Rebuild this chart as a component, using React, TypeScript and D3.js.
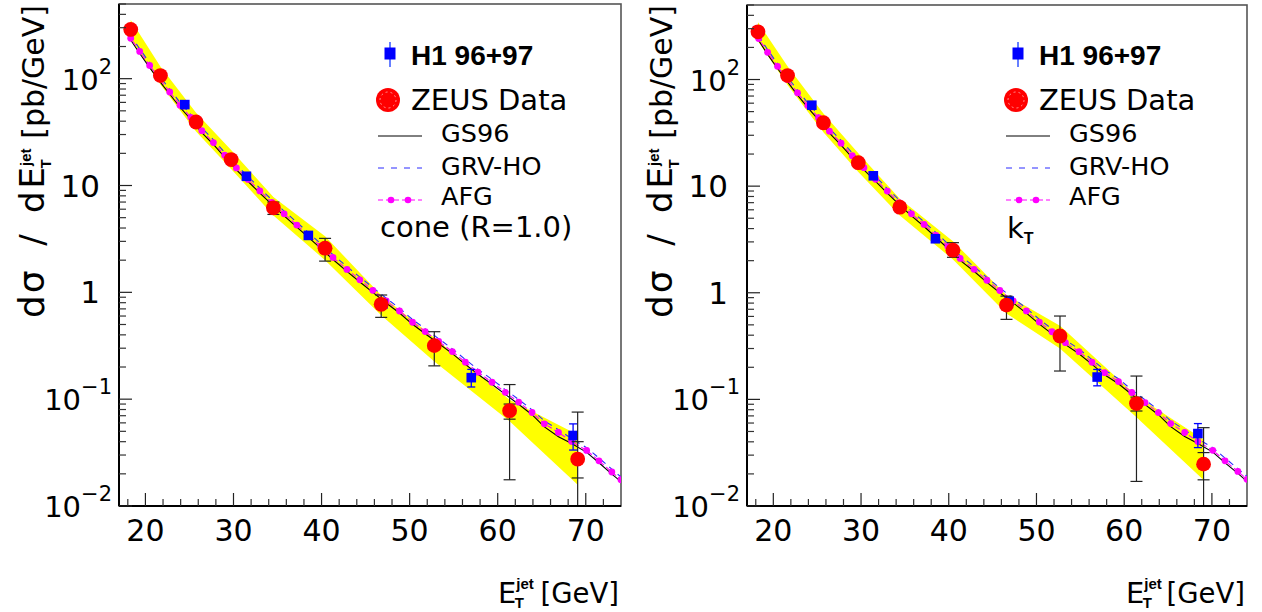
import React from 'react';
import * as d3 from 'd3';

// ---------- data ----------
const xTheory = [17.7, 18.33, 19.35, 20.48, 21.6, 22.76, 23.93, 25.15, 26.4, 27.72, 29.0, 30.33, 31.66, 32.99, 34.35, 35.75, 37.19, 38.55, 39.9, 41.3, 42.88, 44.35, 45.82, 47.34, 48.85, 50.33, 51.77, 53.3, 54.85, 56.33, 57.76, 59.35, 60.86, 62.38, 63.9, 65.3, 66.9, 68.4, 70.1, 71.5, 72.96, 74.0];

const afgCone = [300, 239, 180, 133, 100, 75, 56.3, 43.5, 32.6, 25.2, 19.2, 14.6, 11.4, 8.9, 6.94, 5.43, 4.26, 3.39, 2.70, 2.12, 1.64, 1.31, 1.045, 0.83, 0.669, 0.525, 0.429, 0.347, 0.279, 0.222, 0.179, 0.144, 0.116, 0.0937, 0.075, 0.0588, 0.0488, 0.0402, 0.0331, 0.0265, 0.0208, 0.0176];
const gs96Cone = [290, 230, 172, 127, 95, 71.5, 54, 41.5, 31.2, 24.2, 18.4, 14.0, 10.9, 8.5, 6.65, 5.2, 4.08, 3.25, 2.58, 2.03, 1.57, 1.25, 1.0, 0.795, 0.64, 0.502, 0.41, 0.332, 0.267, 0.212, 0.171, 0.138, 0.111, 0.0895, 0.0715, 0.055, 0.0445, 0.0385, 0.0318, 0.0254, 0.0199, 0.0169];
const grvCone = [318, 252, 190, 141, 106, 79.5, 60, 46, 34.6, 26.8, 20.4, 15.5, 12.1, 9.45, 7.35, 5.76, 4.52, 3.6, 2.86, 2.25, 1.74, 1.39, 1.11, 0.88, 0.71, 0.557, 0.455, 0.368, 0.296, 0.235, 0.19, 0.153, 0.123, 0.0993, 0.0795, 0.0625, 0.0518, 0.0426, 0.0351, 0.0281, 0.0221, 0.0187];

const afgKt = [300, 242, 180, 133, 100, 75, 57, 43.8, 32.8, 25.3, 19.3, 14.9, 11.6, 8.98, 7.0, 5.5, 4.37, 3.45, 2.72, 2.10, 1.66, 1.31, 1.05, 0.84, 0.675, 0.531, 0.431, 0.34, 0.28, 0.223, 0.178, 0.147, 0.116, 0.0934, 0.0752, 0.0593, 0.0489, 0.0402, 0.0333, 0.0265, 0.0211, 0.0178];
const gs96Kt = [290, 232, 172, 127, 95.5, 71.5, 54.5, 41.8, 31.4, 24.2, 18.5, 14.2, 11.1, 8.6, 6.7, 5.26, 4.18, 3.3, 2.6, 2.01, 1.59, 1.25, 1.0, 0.803, 0.645, 0.508, 0.412, 0.326, 0.268, 0.213, 0.17, 0.14, 0.111, 0.0893, 0.0718, 0.0555, 0.0448, 0.0386, 0.032, 0.0254, 0.0202, 0.017];
const grvKt = [318, 256, 190, 141, 106, 79.5, 60.4, 46.4, 34.8, 26.8, 20.5, 15.8, 12.3, 9.5, 7.42, 5.83, 4.63, 3.66, 2.88, 2.23, 1.76, 1.39, 1.11, 0.89, 0.716, 0.563, 0.457, 0.36, 0.297, 0.236, 0.189, 0.156, 0.123, 0.099, 0.0797, 0.0629, 0.0518, 0.0426, 0.0353, 0.0281, 0.0224, 0.0189];

const zeusConeX = [18.33, 21.7, 25.75, 29.73, 34.53, 40.4, 46.77, 52.8, 61.35, 69.08];
const zeusConeY = [289, 107, 39.3, 17.5, 6.18, 2.59, 0.773, 0.317, 0.078, 0.0275];
const zeusConeLo = [272, 101, 37, 16.5, 5.36, 1.96, 0.583, 0.205, 0.0176, 0.005];
const zeusConeHi = [306, 113, 41.5, 18.5, 7.0, 3.2, 0.944, 0.428, 0.137, 0.0757];
const zeusConeStatLo = [null, null, null, null, null, null, null, null, 0.065, 0.0183];
const zeusConeStatHi = [null, null, null, null, null, null, null, null, 0.090, 0.040];
const bandConeLo = [235, 88, 32, 14.3, 5.25, 2.0, 0.61, 0.225, 0.062, 0.0158];
const bandConeHi = [355, 130, 48, 21.5, 7.8, 3.35, 0.94, 0.375, 0.099, 0.0465];

const zeusKtX = [18.25, 21.62, 25.71, 29.69, 34.42, 40.48, 46.58, 52.68, 61.4, 69.05];
const zeusKtY = [280, 109, 39.3, 16.6, 6.35, 2.51, 0.767, 0.393, 0.0914, 0.0247];
const zeusKtLo = [265, 103, 37, 15.7, 5.9, 2.15, 0.563, 0.1845, 0.017, 0.005];
const zeusKtHi = [295, 115, 41.5, 17.5, 6.9, 2.95, 0.93, 0.605, 0.1655, 0.0543];
const zeusKtStatLo = [null, null, null, null, null, null, null, null, 0.0778, 0.0176];
const zeusKtStatHi = [null, null, null, null, null, null, null, null, 0.105, 0.0317];
const bandKtLo = [228, 89, 32, 13.6, 5.3, 2.05, 0.64, 0.30, 0.068, 0.0175];
const bandKtHi = [345, 133, 48, 20.4, 7.6, 3.05, 0.95, 0.49, 0.108, 0.042];

const h1ConeX = [24.47, 31.47, 38.5, 46.97, 57.0, 68.56];
const h1ConeY = [57.2, 12.2, 3.41, 0.778, 0.159, 0.0457];
const h1ConeLo = [54.5, 11.6, 3.25, 0.74, 0.13, 0.0334];
const h1ConeHi = [60, 12.8, 3.58, 0.82, 0.19, 0.0587];

const h1KtX = [24.39, 31.4, 38.48, 46.89, 56.92, 68.4];
const h1KtY = [57.4, 12.5, 3.21, 0.836, 0.162, 0.0478];
const h1KtLo = [54.7, 11.9, 3.06, 0.80, 0.134, 0.0353];
const h1KtHi = [60.2, 13.1, 3.37, 0.88, 0.191, 0.0593];

const xMajorTicks = [20, 30, 40, 50, 60, 70];
const xMinorTicks = [18, 22, 24, 26, 28, 32, 34, 36, 38, 42, 44, 46, 48, 52, 54, 56, 58, 62, 64, 66, 68, 72];
const yMajorTicks = [0.01, 0.1, 1, 10, 100];
const yTickLabels = [
  { v: 0.01, base: '10', exp: '\u22122' },
  { v: 0.1, base: '10', exp: '\u22121' },
  { v: 1, base: '1', exp: '' },
  { v: 10, base: '10', exp: '' },
  { v: 100, base: '10', exp: '2' },
];
const legendLabels = ['H1 96+97', 'ZEUS Data', 'GS96', 'GRV-HO', 'AFG'];

const FONT = "'DejaVu Sans', sans-serif";
const BOLD = "'Liberation Sans', Arial, sans-serif";

type PanelProps = {
  id: string;
  ox: number;
  x0: number; x1: number; y0: number; y1: number;
  afg: number[]; gs: number[]; grv: number[];
  zx: number[]; zy: number[]; zlo: number[]; zhi: number[];
  zslo: (number | null)[]; zshi: (number | null)[];
  blo: number[]; bhi: number[];
  hx: number[]; hy: number[]; hlo: number[]; hhi: number[];
  tag: React.ReactNode;
};

function Panel(p: PanelProps) {
  const x = d3.scaleLinear().domain([17, 74]).range([p.x0, p.x1]);
  const y = d3.scaleLog().domain([0.01, 500]).range([p.y1, p.y0]);
  const lineGen = (vals: number[]) =>
    d3.line<number>().x((_, i) => x(xTheory[i])).y((v) => y(v))(vals) || '';
  const band = d3.area<number>()
    .x((_, i) => x(p.zx[i]))
    .y0((_, i) => y(p.blo[i]))
    .y1((_, i) => y(p.bhi[i]))(p.zx) || '';
  const minor: number[] = [];
  for (const d of [0.01, 0.1, 1, 10, 100]) {
    for (let k = 2; k <= 9; k++) {
      const v = d * k;
      if (v <= 500) minor.push(v);
    }
  }
  const o = p.ox;
  const cap = 6;
  return (
    <g>
      <defs>
        <clipPath id={`clip-${p.id}`}>
          <rect x={p.x0} y={p.y0} width={p.x1 - p.x0} height={p.y1 - p.y0} />
        </clipPath>
      </defs>
      <rect x={p.x0} y={p.y0} width={p.x1 - p.x0} height={p.y1 - p.y0} fill="#fff" stroke="#555" strokeWidth={1.6} />
      <g clipPath={`url(#clip-${p.id})`}>
        <path d={band} fill="#ffff00" stroke="none" />
        <path d={lineGen(p.gs)} fill="none" stroke="#000" strokeWidth={1.1} />
        <path d={lineGen(p.grv)} fill="none" stroke="#2a2aff" strokeWidth={1.1} strokeDasharray="6,5" />
        <path d={lineGen(p.afg)} fill="none" stroke="#ff00ff" strokeWidth={1.1} strokeDasharray="5,3" />
        {p.afg.map((v, i) => i === 0 ? null : (
          <circle key={`a${i}`} cx={x(xTheory[i])} cy={y(v)} r={3.4} fill="#ff00ff" />
        ))}
        {/* H1 points */}
        {p.hx.map((xv, i) => (
          <g key={`h${i}`} stroke="#0000ff" strokeWidth={1.3}>
            <line x1={x(xv)} x2={x(xv)} y1={y(p.hlo[i])} y2={y(p.hhi[i])} />
            <line x1={x(xv) - 4} x2={x(xv) + 4} y1={y(p.hlo[i])} y2={y(p.hlo[i])} />
            <line x1={x(xv) - 4} x2={x(xv) + 4} y1={y(p.hhi[i])} y2={y(p.hhi[i])} />
            <rect x={x(xv) - 4.8} y={y(p.hy[i]) - 4.8} width={9.6} height={9.6} fill="#0000ff" stroke="none" />
          </g>
        ))}
        {/* ZEUS points */}
        {p.zx.map((xv, i) => {
          const cx = x(xv);
          const lo = Math.max(p.zlo[i], 0.0095);
          return (
            <g key={`z${i}`} stroke="#222" strokeWidth={1.2}>
              <line x1={cx} x2={cx} y1={y(lo)} y2={y(p.zhi[i])} />
              {p.zlo[i] > 0.01 && <line x1={cx - cap} x2={cx + cap} y1={y(p.zlo[i])} y2={y(p.zlo[i])} />}
              <line x1={cx - cap} x2={cx + cap} y1={y(p.zhi[i])} y2={y(p.zhi[i])} />
              {p.zslo[i] != null && <line x1={cx - cap} x2={cx + cap} y1={y(p.zslo[i] as number)} y2={y(p.zslo[i] as number)} />}
              {p.zshi[i] != null && <line x1={cx - cap} x2={cx + cap} y1={y(p.zshi[i] as number)} y2={y(p.zshi[i] as number)} />}
              <circle cx={cx} cy={y(p.zy[i])} r={7.4} fill="#ff0000" stroke="none" />
            </g>
          );
        })}
      </g>
      {/* axes */}
      <line x1={p.x0} x2={p.x0} y1={p.y0} y2={p.y1} stroke="#000" strokeWidth={2} />
      <line x1={p.x0} x2={p.x1} y1={p.y1} y2={p.y1} stroke="#000" strokeWidth={2} />
      {xMajorTicks.map((t) => (
        <g key={`xm${t}`}>
          <line x1={x(t)} x2={x(t)} y1={p.y1} y2={p.y1 - 13} stroke="#222" strokeWidth={1.2} />
          <text x={x(t)} y={p.y1 + 35} fontFamily={FONT} fontSize={30} textAnchor="middle">{t}</text>
        </g>
      ))}
      {xMinorTicks.map((t) => (
        <line key={`xn${t}`} x1={x(t)} x2={x(t)} y1={p.y1} y2={p.y1 - 7} stroke="#333" strokeWidth={1.2} />
      ))}
      {yMajorTicks.map((t) => (
        <line key={`ym${t}`} x1={p.x0} x2={p.x0 + 13} y1={y(t)} y2={y(t)} stroke="#222" strokeWidth={1.2} />
      ))}
      {minor.map((t) => (
        <line key={`yn${t}`} x1={p.x0} x2={p.x0 + 7} y1={y(t)} y2={y(t)} stroke="#333" strokeWidth={1.2} />
      ))}
      {yTickLabels.map((l) => (
        l.exp ? (
          <text key={`yl${l.v}`} x={p.x0 - 7} y={y(l.v) + 11} fontFamily={FONT} fontSize={29} textAnchor="end">
            {l.base}<tspan dy={-16} fontSize={21}>{l.exp}</tspan>
          </text>
        ) : (
          <text key={`yl${l.v}`} x={p.x0 - 19} y={y(l.v) + 11} fontFamily={FONT} fontSize={31} textAnchor="end">{l.base}</text>
        )
      ))}
      {/* y axis title (rotated) */}
      <g transform={`translate(${o + 44},0) rotate(-90)`} fontFamily={FONT}>
        <text x={-318} y={0} fontSize={36} letterSpacing={2}>dσ</text>
        <text x={-240} y={0} fontSize={34} textAnchor="middle">/</text>
        <text x={-213} y={0} fontSize={34} letterSpacing={3}>dE<tspan fontFamily={BOLD} fontWeight="bold" fontSize={15} letterSpacing={0} dx={-2} dy={-13}>jet</tspan><tspan fontFamily={BOLD} fontWeight="bold" fontSize={15} letterSpacing={0} dx={-20} dy={20}>T</tspan></text>
        <text x={-5} y={0} fontSize={30} textAnchor="end">[pb/GeV]</text>
      </g>
      {/* x axis title */}
      <text x={o + 498} y={603} fontFamily={FONT} fontSize={29}>
        E<tspan fontFamily={BOLD} fontWeight="bold" fontSize={15} dy={-14}>jet</tspan><tspan fontFamily={BOLD} fontWeight="bold" fontSize={15} dx={-19} dy={19}>T</tspan>
      </text>
      <text x={p.x1 - 2} y={603} fontFamily={FONT} fontSize={27.5} textAnchor="end">[GeV]</text>
      {/* legend */}
      <line x1={o + 390} x2={o + 390} y1={42} y2={67} stroke="#3355ff" strokeWidth={1.5} />
      <rect x={o + 384.5} y={47.5} width={11} height={12} fill="#0000ff" />
      <text x={o + 411} y={65} fontFamily={BOLD} fontWeight="bold" fontSize={28}>{legendLabels[0]}</text>
      <circle cx={o + 388} cy={100} r={12} fill="#ff0000" />
      <circle cx={o + 388} cy={100} r={8} fill="none" stroke="#ffffff" strokeWidth={0.7} strokeDasharray="2,3" opacity={0.8} />
      <text x={o + 411} y={110} fontFamily={FONT} fontSize={29}>{legendLabels[1]}</text>
      <line x1={o + 378} x2={o + 422} y1={136} y2={136} stroke="#000" strokeWidth={1} />
      <text x={o + 441} y={142} fontFamily={FONT} fontSize={25.5}>{legendLabels[2]}</text>
      <line x1={o + 378} x2={o + 422} y1={168} y2={168} stroke="#2a2aff" strokeWidth={1} strokeDasharray="6,7" />
      <text x={o + 441} y={175} fontFamily={FONT} fontSize={25.5}>{legendLabels[3]}</text>
      <line x1={o + 378} x2={o + 422} y1={200} y2={200} stroke="#ff00ff" strokeWidth={1} strokeDasharray="5,3" />
      <circle cx={o + 391} cy={200} r={3.3} fill="#ff00ff" />
      <circle cx={o + 408} cy={200} r={3.3} fill="#ff00ff" />
      <text x={o + 441} y={205} fontFamily={FONT} fontSize={25.5}>{legendLabels[4]}</text>
      {p.tag}
    </g>
  );
}

export default function App() {
  return (
    <svg width={1262} height={612} style={{ position: 'fixed', left: 0, top: 0, background: '#fff' }}>
      <rect x={0} y={0} width={1262} height={612} fill="#fff" />
      <Panel
        id="cone" ox={0} x0={119} x1={621} y0={4} y1={506}
        afg={afgCone} gs={gs96Cone} grv={grvCone}
        zx={zeusConeX} zy={zeusConeY} zlo={zeusConeLo} zhi={zeusConeHi}
        zslo={zeusConeStatLo} zshi={zeusConeStatHi}
        blo={bandConeLo} bhi={bandConeHi}
        hx={h1ConeX} hy={h1ConeY} hlo={h1ConeLo} hhi={h1ConeHi}
        tag={<text x={380} y={237} fontFamily={FONT} fontSize={29}>cone (R=1.0)</text>}
      />
      <Panel
        id="kt" ox={628} x0={747} x1={1247} y0={5} y1={506}
        afg={afgKt} gs={gs96Kt} grv={grvKt}
        zx={zeusKtX} zy={zeusKtY} zlo={zeusKtLo} zhi={zeusKtHi}
        zslo={zeusKtStatLo} zshi={zeusKtStatHi}
        blo={bandKtLo} bhi={bandKtHi}
        hx={h1KtX} hy={h1KtY} hlo={h1KtLo} hhi={h1KtHi}
        tag={<text x={1007} y={238} fontFamily={FONT} fontSize={29}>k<tspan fontFamily={BOLD} fontWeight="bold" fontSize={16} dy={6}>T</tspan></text>}
      />
    </svg>
  );
}
